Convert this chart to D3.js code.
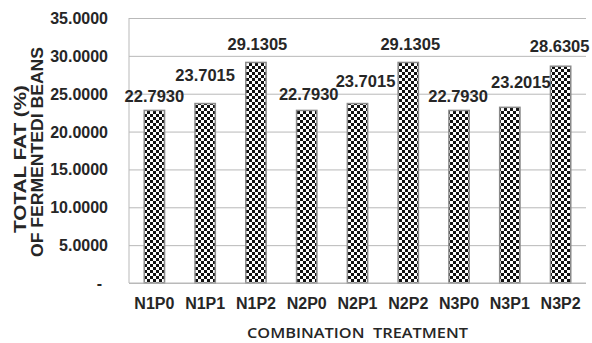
<!DOCTYPE html>
<html>
<head>
<meta charset="utf-8">
<script src="https://cdn.jsdelivr.net/npm/d3@7"></script>
<style>
  html, body { margin: 0; padding: 0; background: #fff; }
  svg { display: block; }
</style>
</head>
<body>
<svg id="chart" width="592" height="343"></svg>
<script>
// Total fat per combination treatment
const categories = ["N1P0", "N1P1", "N1P2", "N2P0", "N2P1", "N2P2", "N3P0", "N3P1", "N3P2"];
const totalFat = [22.7930, 23.7015, 29.1305, 22.7930, 23.7015, 29.1305, 22.7930, 23.2015, 28.6305];
const yTicks = [0, 5, 10, 15, 20, 25, 30, 35];

// Hand-placed data label nudges (px) relative to each bar's top centre
const labelDx = [0, 0, 1.5, 2, 8, 2, -1, 11, -1];
const labelDy = [-8, -22.5, -12.5, -10, -16.5, -12.5, -8, -19, -14];

const svg = d3.select("#chart");
const plot = { left: 129, right: 586, top: 18, bottom: 283 };
const textColor = "#262626";
const gridColor = "#b9b9b9";
const boldFont = "'Liberation Sans', Arial, sans-serif";

const x = d3.scaleBand()
  .domain(categories)
  .range([plot.left, plot.right])
  .paddingInner(0.6)
  .paddingOuter(0.3);

const y = d3.scaleLinear()
  .domain([0, 35])
  .range([plot.bottom, plot.top]);

// Checkerboard fill
const defs = svg.append("defs");
const pat = defs.append("pattern")
  .attr("id", "checker")
  .attr("patternUnits", "userSpaceOnUse")
  .attr("width", 6).attr("height", 6);
pat.append("rect").attr("width", 6).attr("height", 6).attr("fill", "#fff");
pat.append("rect").attr("x", 0).attr("y", 0).attr("width", 3).attr("height", 3).attr("fill", "#111");
pat.append("rect").attr("x", 3).attr("y", 3).attr("width", 3).attr("height", 3).attr("fill", "#111");

// Horizontal gridlines
const grid = svg.append("g")
  .attr("transform", `translate(${plot.left},0)`)
  .call(d3.axisLeft(y).tickValues(yTicks).tickSize(-(plot.right - plot.left)).tickFormat(""));
grid.select(".domain").remove();
grid.selectAll(".tick line").attr("stroke", gridColor).attr("stroke-width", 1);

// Left frame line
svg.append("line")
  .attr("x1", plot.left).attr("x2", plot.left)
  .attr("y1", y(35)).attr("y2", y(0))
  .attr("stroke", gridColor).attr("stroke-width", 1);

// Y tick labels
const yAxis = svg.append("g")
  .attr("transform", `translate(108,0)`)
  .call(d3.axisLeft(y).tickValues(yTicks).tickSize(0).tickPadding(0)
    .tickFormat(d => d === 0 ? "-" : d.toFixed(4)));
yAxis.select(".domain").remove();
yAxis.selectAll("text")
  .attr("fill", textColor)
  .style("font-family", boldFont)
  .style("font-size", "16px")
  .style("font-weight", "bold")
  .attr("dy", "0.34em")
  .attr("x", d => d === 0 ? -6 : 0);

// Bars
svg.append("g").selectAll("rect")
  .data(totalFat)
  .join("rect")
  .attr("x", (d, i) => x(categories[i]))
  .attr("y", d => y(d))
  .attr("width", x.bandwidth())
  .attr("height", d => y(0) - y(d))
  .attr("fill", "url(#checker)")
  .attr("stroke", "#8a8a8a")
  .attr("stroke-width", 1.5);

// Value labels
svg.append("g").selectAll("text")
  .data(totalFat)
  .join("text")
  .attr("x", (d, i) => x(categories[i]) + x.bandwidth() / 2 + labelDx[i])
  .attr("y", (d, i) => y(d) + labelDy[i])
  .attr("text-anchor", "middle")
  .attr("fill", textColor)
  .style("font-family", boldFont)
  .style("font-size", "16.5px")
  .style("font-weight", "bold")
  .text(d => d.toFixed(4));

// X category labels
const xAxis = svg.append("g")
  .attr("transform", `translate(0,${plot.bottom})`)
  .call(d3.axisBottom(x).tickSize(0).tickPadding(0));
xAxis.select(".domain").remove();
xAxis.selectAll("text")
  .attr("fill", textColor)
  .attr("y", 26)
  .attr("dy", 0)
  .style("font-family", boldFont)
  .style("font-size", "16px")
  .style("font-weight", "bold");

// Baseline
svg.append("line")
  .attr("x1", plot.left).attr("x2", plot.right)
  .attr("y1", y(0)).attr("y2", y(0))
  .attr("stroke", gridColor).attr("stroke-width", 1);

// X axis title
svg.append("text")
  .attr("x", (plot.left + plot.right) / 2)
  .attr("y", 338)
  .attr("text-anchor", "middle")
  .attr("fill", textColor)
  .attr("textLength", 221)
  .attr("lengthAdjust", "spacingAndGlyphs")
  .style("font-family", "'Open Sans', sans-serif")
  .style("font-size", "15px")
  .style("font-weight", "600")
  .style("white-space", "pre")
  .text("COMBINATION  TREATMENT");

// Y axis title, two rotated lines
const yTitle = [
  { text: "TOTAL FAT (%)", cx: 26, cy: 159, len: 148 },
  { text: "OF FERMENTEDI BEANS", cx: 43, cy: 152, len: 210 }
];
svg.append("g").selectAll("text")
  .data(yTitle)
  .join("text")
  .attr("transform", d => `translate(${d.cx},${d.cy}) rotate(-90)`)
  .attr("text-anchor", "middle")
  .attr("fill", textColor)
  .attr("textLength", d => d.len)
  .attr("lengthAdjust", "spacingAndGlyphs")
  .style("font-family", boldFont)
  .style("font-size", "17px")
  .style("font-weight", "bold")
  .text(d => d.text);
</script>
</body>
</html>
